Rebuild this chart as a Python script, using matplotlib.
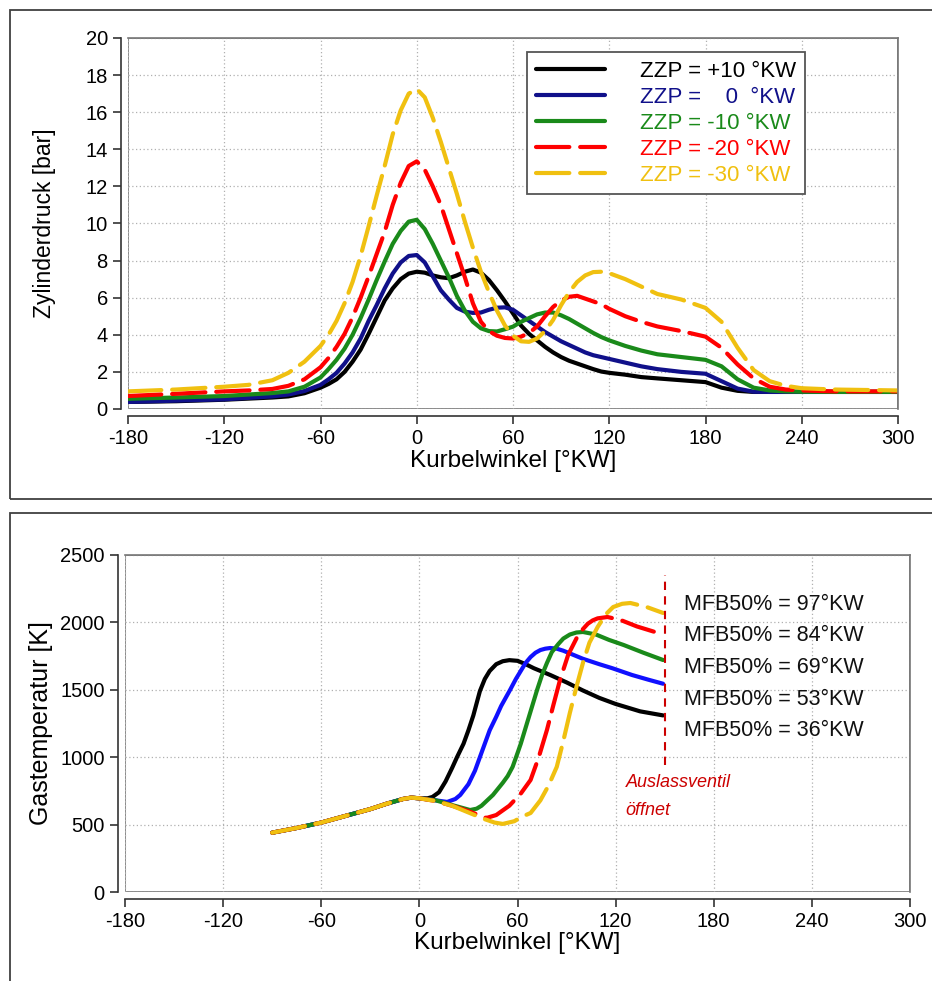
# plot.py
# Zylinderdruck und Gastemperatur ueber Kurbelwinkel fuer verschiedene Zuendzeitpunkte.

import matplotlib
matplotlib.use('Agg')
import matplotlib.pyplot as plt
from matplotlib.patches import Rectangle

plt.rcParams['font.family'] = ['Liberation Sans', 'DejaVu Sans']
plt.rcParams['axes.unicode_minus'] = False

# ---- Daten oben: Zylinderdruck [bar] ----
angle = [-180, -150, -120, -105, -90, -80, -70, -60, -55, -50, -45, -40, -35, -30, -25,
         -20, -15, -10, -5, 0, 5, 10, 15, 20, 25, 30, 35, 40, 45, 50, 55, 60, 65, 70, 75,
         80, 85, 90, 95, 100, 105, 110, 115, 120, 130, 140, 150, 165, 180, 190, 200, 210,
         220, 230, 240, 260, 300]

p_zzp_p10 = [0.38, 0.42, 0.5, 0.56, 0.62, 0.68, 0.85, 1.15, 1.35, 1.6, 2.0, 2.55, 3.2, 4.05, 4.95,
             5.85, 6.5, 7.0, 7.3, 7.4, 7.35, 7.2, 7.1, 7.05, 7.2, 7.4, 7.52, 7.35, 6.95, 6.4,
             5.8, 5.15, 4.5, 4.05, 3.7, 3.35, 3.05, 2.8, 2.6, 2.45, 2.3, 2.15, 2.02, 1.95,
             1.85, 1.72, 1.65, 1.55, 1.45, 1.15, 0.98, 0.92, 0.92, 0.92, 0.92, 0.92, 0.92]
p_zzp_0 = [0.38, 0.45, 0.52, 0.6, 0.68, 0.78, 0.97, 1.3, 1.6, 1.95, 2.45, 3.05, 3.8, 4.75, 5.6,
           6.5, 7.3, 7.9, 8.25, 8.3, 7.9, 7.15, 6.4, 5.9, 5.45, 5.25, 5.18, 5.2, 5.35, 5.46,
           5.48, 5.35, 5.05, 4.75, 4.45, 4.15, 3.9, 3.65, 3.45, 3.25, 3.05, 2.9, 2.8, 2.7,
           2.5, 2.3, 2.15, 2.0, 1.9, 1.5, 1.1, 0.93, 0.92, 0.92, 0.92, 0.92, 0.92]
p_zzp_m10 = [0.55, 0.62, 0.7, 0.78, 0.86, 0.95, 1.2, 1.7, 2.15, 2.65, 3.25, 4.0, 4.9, 5.9, 6.95,
             7.95, 8.9, 9.6, 10.1, 10.2, 9.7, 8.9, 8.0, 7.1, 6.1, 5.3, 4.7, 4.35, 4.2, 4.18,
             4.3, 4.44, 4.7, 4.9, 5.1, 5.2, 5.2, 5.05, 4.85, 4.6, 4.35, 4.1, 3.88, 3.7,
             3.4, 3.15, 2.95, 2.8, 2.65, 2.3, 1.6, 1.15, 1.0, 0.95, 0.93, 0.92, 0.92]
p_zzp_m20 = [0.7, 0.82, 0.95, 1.0, 1.08, 1.25, 1.6, 2.25, 2.75, 3.35, 4.05, 4.95, 6.0, 7.15, 8.35,
             9.55, 11.0, 12.2, 13.1, 13.35, 12.9, 12.0, 11.0, 9.7, 8.4, 7.1, 5.7, 4.7, 4.2, 3.95,
             3.83, 3.8, 3.9, 4.1, 4.45, 5.0, 5.5, 5.85, 6.05, 6.1, 5.95, 5.8, 5.65, 5.4,
             5.0, 4.7, 4.45, 4.2, 3.9, 3.3, 2.4, 1.65, 1.2, 1.05, 1.0, 0.95, 0.95]
p_zzp_m30 = [0.95, 1.05, 1.2, 1.3, 1.55, 1.95, 2.55, 3.4, 4.0, 4.75, 5.7, 6.85, 8.25, 9.85, 11.5,
             13.1, 14.8, 16.1, 17.0, 17.25, 16.8, 15.7, 14.4, 13.0, 11.6, 10.1, 8.7, 7.4, 6.3,
             5.3, 4.5, 3.95, 3.65, 3.62, 3.8, 4.2, 4.8, 5.6, 6.3, 6.85, 7.2, 7.38, 7.4, 7.32,
             7.0, 6.6, 6.2, 5.9, 5.45, 4.7, 3.3, 2.1, 1.5, 1.25, 1.12, 1.05, 1.0]

zzp_labels = ['ZZP = +10 °KW', 'ZZP =    0  °KW', 'ZZP = -10 °KW', 'ZZP = -20 °KW', 'ZZP = -30 °KW']

# ---- Daten unten: Gastemperatur [K] ----
t_common_x = [-90, -75, -60, -45, -30, -20, -10, -5, 0]
t_common_y = [440, 475, 515, 565, 615, 655, 690, 700, 695]

t36_x = [5, 8, 12, 16, 20, 23, 27, 30, 33, 35, 37, 40, 43, 47, 51, 55, 60, 65, 70, 80, 90,
         100, 110, 120, 135, 149]
t36_y = [695, 705, 740, 820, 920, 1000, 1100, 1200, 1310, 1400, 1490, 1580, 1640, 1690, 1712,
         1720, 1715, 1690, 1660, 1610, 1555, 1495, 1440, 1395, 1340, 1310]
t53_x = [10, 17, 22, 25, 30, 34, 37, 40, 43, 47, 50, 55.5, 59, 62, 65, 68, 71, 74, 77, 80, 84,
         88, 100, 110, 118, 130, 140, 149]
t53_y = [680, 668, 690, 720, 800, 900, 1000, 1100, 1200, 1300, 1380, 1500, 1580, 1640, 1700,
         1743, 1775, 1795, 1805, 1810, 1805, 1790, 1730, 1690, 1660, 1610, 1575, 1545]
t69_x = [10, 20, 31, 35, 38, 45, 51, 54, 57, 60, 62, 65, 67.7, 72, 75, 78, 81, 85, 88, 92, 96,
         100, 108, 116, 125, 137, 149]
t69_y = [680, 645, 608, 618, 640, 720, 810, 860, 928, 1030, 1100, 1220, 1328, 1500, 1610, 1699,
         1780, 1840, 1880, 1910, 1925, 1929, 1910, 1870, 1832, 1775, 1721]
t84_x = [10, 20, 30, 41, 47, 55, 62, 68, 73, 78, 82, 86, 91, 96.5, 100, 103, 106, 109, 115,
         123, 133, 144]
t84_y = [675, 640, 600, 549, 571, 640, 730, 831, 1000, 1202, 1390, 1573, 1760, 1892, 1950, 1990,
         2015, 2030, 2040, 2018, 1970, 1929]
t97_x = [10, 20, 30, 40, 46, 51, 58, 63, 68, 74, 79, 84, 88, 92, 96, 100, 104, 109, 114, 118.5,
         124, 129, 139, 149]
t97_y = [675, 640, 590, 540, 515, 505, 525, 560, 586, 680, 790, 928, 1120, 1328, 1520, 1699,
         1850, 1966, 2060, 2114, 2138, 2144, 2114, 2070]

mfb_labels = ['MFB50% = 97°KW', 'MFB50% = 84°KW', 'MFB50% = 69°KW',
              'MFB50% = 53°KW', 'MFB50% = 36°KW']
mfb_label_y = [2130, 1900, 1662, 1425, 1195]

colors_top = ['black', '#10108a', '#1a8a1a', '#ff0000', '#f0c010']
colors_bot = ['black', '#1010ff', '#1a8a1a', '#ff0000', '#f0c010']
dash = (8, 2.6)

fig = plt.figure(figsize=(9.32, 9.81), dpi=100)

# Rahmen der beiden Teilbilder
fig.add_artist(Rectangle((10 / 932, 1 - 499 / 981), 1.0, 489 / 981, transform=fig.transFigure,
                         fill=False, edgecolor='#404040', lw=1.3))
fig.add_artist(Rectangle((10 / 932, -0.05), 1.0, 1 - 513 / 981 + 0.05, transform=fig.transFigure,
                         fill=False, edgecolor='#404040', lw=1.3))


def style_axes(ax):
    for s in ['left', 'bottom']:
        ax.spines[s].set_position(('outward', 5))
        ax.spines[s].set_color('#333333')
        ax.spines[s].set_linewidth(1.2)
    for s in ['top', 'right']:
        ax.spines[s].set_color('#777777')
        ax.spines[s].set_linewidth(1.2)
    # innerer Rahmen
    ax.add_patch(Rectangle((0, 0), 1, 1, transform=ax.transAxes, fill=False,
                           edgecolor='#777777', lw=1.2, zorder=0.5))
    ax.grid(True, ls=(0, (1, 2)), color='#b0b0b0', lw=0.9)
    ax.tick_params(direction='out', length=6, width=1.2, color='#333333', labelsize=14.5)
    ax.set_xlim(-180, 300)
    ax.set_xticks(range(-180, 301, 60))
    ax.set_xlabel('Kurbelwinkel [°KW]', fontsize=17.5)


# ---- oben ----
ax1 = fig.add_axes([128 / 932, 1 - 409 / 981, 770 / 932, 371 / 981])
style_axes(ax1)
series_top = [p_zzp_p10, p_zzp_0, p_zzp_m10, p_zzp_m20, p_zzp_m30]
for i, (vals, c, lab) in enumerate(zip(series_top, colors_top, zzp_labels)):
    if i < 3:
        ax1.plot(angle, vals, color=c, lw=3, label=lab, solid_capstyle='round',
                 solid_joinstyle='round')
    else:
        ax1.plot(angle, vals, color=c, lw=3, label=lab, dashes=dash, dash_capstyle='round',
                 dash_joinstyle='round')
ax1.set_ylim(0, 20)
ax1.set_yticks(range(0, 21, 2))
ax1.set_ylabel('Zylinderdruck [bar]', fontsize=16.5)
ax1.yaxis.set_label_coords(-0.094, 0.5)
ax1.xaxis.set_label_coords(0.5, -0.11)
leg = ax1.legend(loc='upper left', bbox_to_anchor=(0.518, 0.962), fontsize=16,
                 handlelength=3.1, handletextpad=1.6, labelspacing=0.22, borderpad=0.4,
                 borderaxespad=0, fancybox=False, framealpha=1, edgecolor='#555555',
                 labelcolor='linecolor')
leg.get_frame().set_linewidth(1.3)

# ---- unten ----
ax2 = fig.add_axes([125 / 932, 1 - 892 / 981, 785 / 932, 337 / 981])
style_axes(ax2)
series_bot = [(t36_x, t36_y), (t53_x, t53_y), (t69_x, t69_y), (t84_x, t84_y), (t97_x, t97_y)]
for i, ((xs, ys), c) in enumerate(zip(series_bot, colors_bot)):
    x = t_common_x + xs
    y = t_common_y + ys
    if i < 3:
        ax2.plot(x, y, color=c, lw=3, solid_capstyle='round', solid_joinstyle='round')
    else:
        ax2.plot(x, y, color=c, lw=3, dashes=dash, dash_capstyle='round',
                 dash_joinstyle='round')
ax2.set_ylim(0, 2500)
ax2.set_yticks(range(0, 2501, 500))
ax2.set_ylabel('Gastemperatur [K]', fontsize=18)
ax2.yaxis.set_label_coords(-0.092, 0.5)
ax2.xaxis.set_label_coords(0.5, -0.118)

ax2.plot([150, 150], [940, 2350], color='#cc0000', lw=1.5, ls=(0, (4, 3)))
for lab, yy in zip(mfb_labels, mfb_label_y):
    ax2.text(162, yy, lab, fontsize=15.5, va='center', ha='left', color='#111111')
ax2.text(126, 815, 'Auslassventil', fontsize=13, style='italic', color='#cc0000',
         va='center', ha='left')
ax2.text(126, 608, 'öffnet', fontsize=13, style='italic', color='#cc0000',
         va='center', ha='left')

fig.savefig('out.png', dpi=100)
